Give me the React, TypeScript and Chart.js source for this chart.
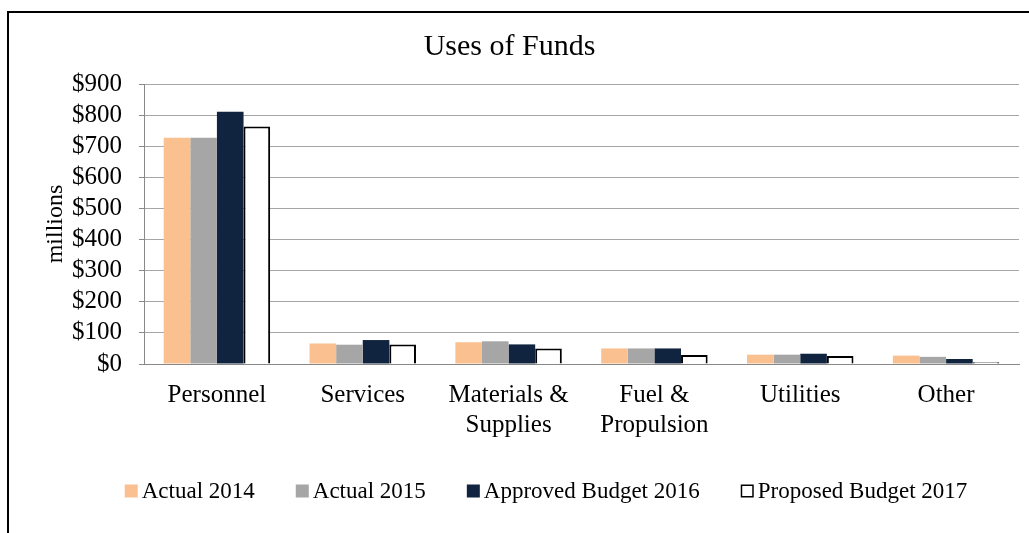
import React, { useEffect, useRef } from "react";
import { Chart, registerables } from "chart.js";

Chart.register(...registerables);

const categories: (string | string[])[] = [
  "Personnel",
  "Services",
  ["Materials &", "Supplies"],
  ["Fuel &", "Propulsion"],
  "Utilities",
  "Other",
];
const seriesNames = ["Actual 2014", "Actual 2015", "Approved Budget 2016", "Proposed Budget 2017"];
const actual2014 = [727, 66, 70, 50, 30, 27];
const actual2015 = [727, 62, 73, 50, 30, 23];
const approved2016 = [811, 77, 63, 50, 33, 16];
const proposed2017 = [763, 63, 50, 29, 26, 6];
const yMin = 0;
const yMax = 900;
const yStep = 100;
const titleText = "Uses of Funds";
const yAxisTitle = "millions";

const FONT = "'Liberation Serif', 'Times New Roman', serif";

const framePlugin = {
  id: "frame",
  beforeDraw(chart: any) {
    const ctx = chart.ctx;
    ctx.save();
    ctx.fillStyle = "#ffffff";
    ctx.fillRect(0, 0, chart.width, chart.height);
    ctx.fillStyle = "#000000";
    ctx.fillRect(7, 11, chart.width - 7, 2);
    ctx.fillRect(7, 11, 2, chart.height - 11);
    ctx.restore();
  },
};

const legendPlugin = {
  id: "customLegend",
  afterDraw(chart: any) {
    const ctx = chart.ctx;
    ctx.save();
    ctx.font = `23px ${FONT}`;
    const box = 13;
    const gap = 4;
    const spacing = 41;
    const items = chart.data.datasets.map((ds: any) => ({
      ds,
      w: ctx.measureText(ds.label).width,
    }));
    const total =
      items.reduce((s: number, it: any) => s + box + gap + it.w, 0) + spacing * (items.length - 1);
    let x = 546 - total / 2;
    const y = 491;
    ctx.textBaseline = "middle";
    ctx.textAlign = "left";
    for (const it of items) {
      ctx.fillStyle = it.ds.backgroundColor;
      ctx.fillRect(x, y - box / 2, box, box);
      if (it.ds.borderWidth) {
        ctx.strokeStyle = it.ds.borderColor;
        ctx.lineWidth = 1.5;
        ctx.strokeRect(x + 0.75, y - box / 2 + 0.75, box - 1.5, box - 1.5);
      }
      ctx.fillStyle = "#000000";
      ctx.fillText(it.ds.label, x + box + gap, y + 1);
      x += box + gap + it.w + spacing;
    }
    ctx.restore();
  },
};

export default function App() {
  const canvasRef = useRef<HTMLCanvasElement | null>(null);

  useEffect(() => {
    if (!canvasRef.current) return;
    const common = { barPercentage: 1, categoryPercentage: 0.73 };
    const chart = new Chart(canvasRef.current, {
      type: "bar",
      data: {
        labels: categories,
        datasets: [
          { label: seriesNames[0], data: actual2014, backgroundColor: "#FAC090", borderWidth: 0, ...common },
          { label: seriesNames[1], data: actual2015, backgroundColor: "#A6A6A6", borderWidth: 0, ...common },
          { label: seriesNames[2], data: approved2016, backgroundColor: "#10243F", borderWidth: 0, ...common },
          {
            label: seriesNames[3],
            data: proposed2017,
            backgroundColor: "#FFFFFF",
            borderColor: "#000000",
            borderWidth: 2,
            ...common,
          },
        ],
      },
      options: {
        animation: false,
        responsive: true,
        maintainAspectRatio: false,
        layout: { padding: { left: 0, right: 10, top: 0, bottom: 77 } },
        plugins: {
          legend: { display: false },
          tooltip: { enabled: false },
          title: {
            display: true,
            text: titleText,
            color: "#000000",
            font: { family: FONT, size: 30, weight: "normal" },
            padding: { top: 29, bottom: 19 },
          },
        },
        scales: {
          x: {
            grid: { display: true, drawOnChartArea: false, drawTicks: false },
            border: { display: true, color: "#888888", width: 1 },
            ticks: {
              color: "#000000",
              font: { family: FONT, size: 25 },
              padding: 16,
              maxRotation: 0,
              autoSkip: false,
            },
          },
          y: {
            min: yMin,
            max: yMax,
            afterFit: (scale: any) => {
              scale.width = 144;
            },
            grid: { color: "#A6A6A6", tickColor: "#888888", tickLength: 5, lineWidth: 1 },
            border: { display: true, color: "#888888", width: 1 },
            ticks: {
              stepSize: yStep,
              autoSkip: false,
              color: "#000000",
              font: { family: FONT, size: 25 },
              padding: 17,
              callback: (v: any) => "$" + v,
            },
            title: {
              display: true,
              text: yAxisTitle,
              color: "#000000",
              font: { family: FONT, size: 24 },
              padding: { top: 41, bottom: 0 },
            },
          },
        },
      },
      plugins: [framePlugin, legendPlugin],
    });
    return () => chart.destroy();
  }, []);

  return (
    <div style={{ position: "absolute", left: 0, top: 0, width: 1029, height: 533, background: "#fff" }}>
      <canvas ref={canvasRef} />
    </div>
  );
}
